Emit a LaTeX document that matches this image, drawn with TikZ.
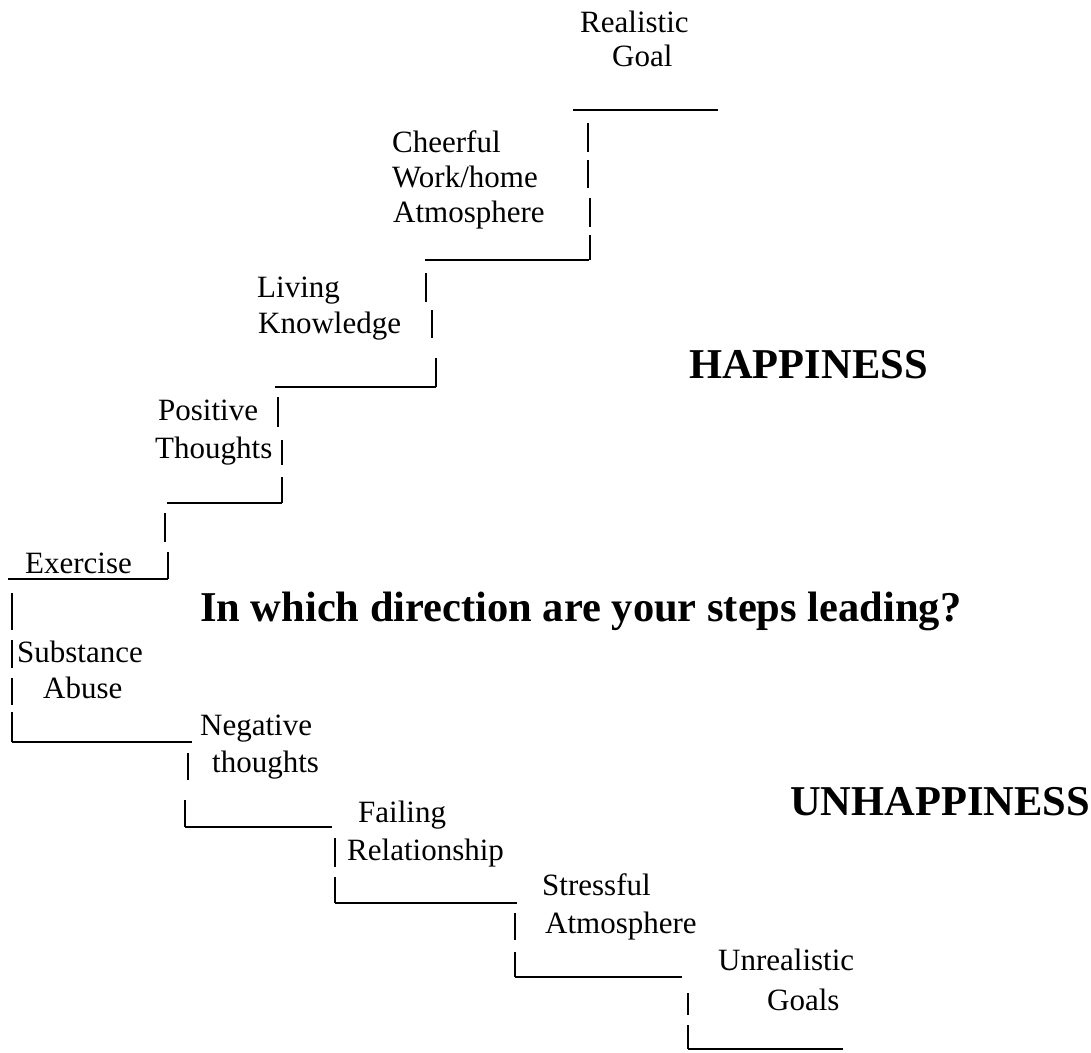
\documentclass[tikz,border=0pt]{standalone}
\usepackage{fontspec}
\setmainfont{Liberation Serif}
\begin{document}
\begin{tikzpicture}[x=1pt, y=-1pt,
	lbl/.style={anchor=base west, inner sep=0pt, font=\fontsize{31}{36}\selectfont},
	big/.style={anchor=base west, inner sep=0pt, font=\fontsize{42.5}{48}\selectfont\bfseries},
	stroke/.style={line width=1.5pt}]
		\useasboundingbox (0,0) rectangle (1091,1052);
		% step labels
		\foreach \n/\x/\y/\t in {real/580/32/Realistic, goal/612/66/Goal,
			cheer/392/152/Cheerful, work/392/187/{Work/home}, atmo/393/222/Atmosphere,
			liv/257/297/Living, know/258/333/Knowledge,
			pos/158/420/Positive, thou/155/458/Thoughts,
			exer/25/573/Exercise,
			subs/17/662/Substance, abus/43/698/Abuse,
			neg/200/735/Negative, negth/212/772/thoughts,
			fail/358/822/Failing, rel/347/860/Relationship,
			stre/542/895/Stressful, satmo/545/933/Atmosphere,
			unre/718/970/Unrealistic, goals/767/1010/Goals}
			\node[lbl] (\n) at (\x,\y) {\t};
		\node[big] (happy) at (689,378) {HAPPINESS};
		\node[big] (quest) at (200,621) {In which direction are your steps leading?};
		\node[big] (unhappy) at (790,815) {UNHAPPINESS};
		% treads
		\foreach \a/\b/\y in {573/718/110, 425/589/260, 275/436/387, 167/282/503,
			8/168/579, 12/192/742, 185/332/827, 335/517/903, 515/682/977, 688/843/1049}
			\draw[stroke] (\a,\y) -- (\b,\y);
		% risers
		\foreach \x/\a/\b in {588/123/152, 588/160/188, 590/198/227, 590/235/260,
			426/273/302, 432/310/338, 436/358/387,
			278/397/427, 282/440/465, 282/477/503,
			165/513/542, 168/552/579,
			12/593/630, 12/640/668, 12/678/705, 12/712/742,
			188/753/780, 185/800/827,
			335/838/867, 335/877/903,
			515/913/940, 515/952/977,
			688/993/1015, 688/1025/1049}
			\draw[stroke] (\x,\a) -- (\x,\b);
	\end{tikzpicture}
\end{document}
